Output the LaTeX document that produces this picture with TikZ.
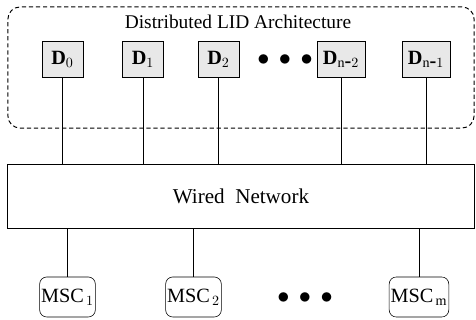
\documentclass[tikz,border=0pt]{standalone}
\usepackage{fontspec}
\setmainfont{Liberation Serif}
\usetikzlibrary{positioning}
\tikzset{%
  lidunit/.style={draw, rectangle, fill=gray!18, minimum height=0.9cm, inner sep=1pt, font=\Large\bfseries},% LID unit
  msc/.style={draw, rectangle, rounded corners=5pt, minimum height=1cm, inner sep=1pt, font=\Large},% switching centre
  link/.style={line width=0.7pt},% connecting line
  moredots/.style={font=\LARGE, inner sep=0pt}% dots between boxes
}
\begin{document}
\begin{tikzpicture}[x=0.025cm, y=-0.025cm]
\useasboundingbox (0,0) rectangle (476,320);
\node[draw, link, dash pattern=on 3pt off 2pt, rounded corners=0.3cm, minimum width=11.65cm, minimum height=3.025cm] (lid) at (241,67.5) {};
\node[font=\fontsize{13.8}{16}\selectfont] (title) at (238,22) {Distributed LID Architecture};
\node[lidunit, minimum width=1.025cm] (d0) at (62.5,59) {D$_0$};
\node[lidunit, minimum width=1.025cm] (d1) at (143,59) {D$_1$};
\node[lidunit, minimum width=1.025cm] (d2) at (218.5,59) {D$_2$};
\node[moredots] (ddots) at (285,60) {$\bullet\,\bullet\,\bullet$};
\node[lidunit, minimum width=1.2cm] (dn2) at (341,59) {D$_{\mathrm{n}\mbox{-}2}$};
\node[lidunit, minimum width=1.2cm] (dn1) at (426,59) {D$_{\mathrm{n}\mbox{-}1}$};
\node[draw, link, minimum width=11.65cm, minimum height=1.575cm, font=\fontsize{15}{18}\selectfont] (net) at (241,196.5) {Wired\ \ Network};
\node[msc, minimum width=1.375cm] (m1) at (67.5,297) {MSC$_{\,1}$};
\node[msc, minimum width=1.375cm] (m2) at (193.5,297) {MSC$_{\,2}$};
\node[moredots] (mdots) at (305,298) {$\bullet\,\bullet\,\bullet$};
\node[msc, minimum width=1.4cm] (mm) at (419,297) {MSC$_{\,\mathrm{m}}$};
\draw[link] (d0) -- (d0 |- net.north);
\draw[link] (d1) -- (d1 |- net.north);
\draw[link] (d2) -- (d2 |- net.north);
\draw[link] (dn2) -- (dn2 |- net.north);
\draw[link] (dn1) -- (dn1 |- net.north);
\draw[link] (net.south -| m1) -- (m1);
\draw[link] (net.south -| m2) -- (m2);
\draw[link] (net.south -| mm) -- (mm);
\end{tikzpicture}
\end{document}
